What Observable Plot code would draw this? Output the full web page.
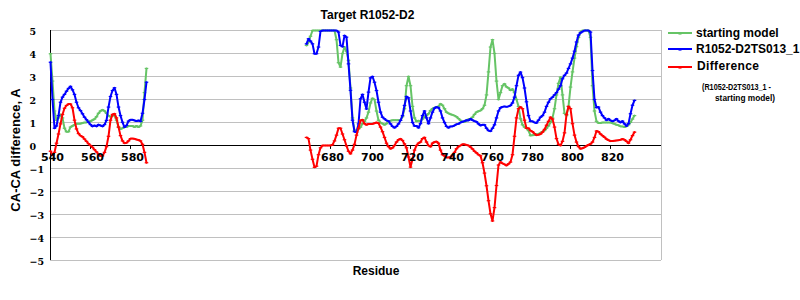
<!DOCTYPE html>
<html><head><meta charset="utf-8">
<script src="https://cdn.jsdelivr.net/npm/d3@7"></script>
<script src="https://cdn.jsdelivr.net/npm/@observablehq/plot@0.6"></script>
<style>body{margin:0;background:#fff;}</style>
</head><body><div id="chart"></div>
<script>
// Residue numbering of the two modelled segments
const seg1Start = 540;
const seg2Start = 668;

// starting model (green)
const startingModel1 = [
  3.99, 2.8, 1.5, 1.1, 1.2, 1.35, 1.2, 0.75, 0.6, 0.6,
  0.8, 0.85, 0.9, 0.95, 0.95, 0.95, 0.98, 1.0, 1.0, 1.05,
  1.05, 1.1, 1.15, 1.25, 1.4, 1.5, 1.55, 1.5, 1.4, 1.3,
  1.25, 1.3, 1.3, 1.1, 0.8, 0.72, 0.75, 0.8, 0.8, 0.85,
  0.85, 0.85, 0.8, 0.85, 0.8, 0.85, 1.1, 2.3, 3.35
];
const startingModel2 = [
  4.35, 4.5, 4.75, 5, 5, 5, 5, 5, 5, 5,
  5, 5, 5, 5, 5, 4.6, 3.6, 3.41, 4.0, 4.28,
  4.1, 3.7, 2.5, 1.2, 0.65, 0.65, 0.72, 0.8, 0.95, 1.05,
  1.2, 1.45, 1.85, 2.05, 2.0, 1.5, 1.1, 1.0, 0.95, 0.9,
  0.95, 1.05, 1.08, 1.1, 1.1, 1.1, 1.1, 1.1, 1.25, 1.6,
  2.6, 3.0, 2.6, 1.7, 1.2, 1.05, 1.08, 1.06, 1.15, 1.25,
  1.3, 1.38, 1.52, 1.6, 1.64, 1.67, 1.7, 1.81, 1.75, 1.6,
  1.45, 1.4, 1.36, 1.33, 1.3, 1.25, 1.17, 1.09, 1.03, 1.03,
  1.08, 1.14, 1.16, 1.23, 1.35, 1.45, 1.49, 1.52, 1.6, 1.75,
  2.2, 3.2, 4.28, 4.6, 4.0, 2.8, 2.0, 2.3, 2.6, 2.68,
  2.55, 2.5, 2.4, 2.45, 2.3, 2.0, 1.7, 1.16, 0.9, 0.8,
  0.75, 0.65, 0.43, 0.45, 0.46, 0.48, 0.5, 0.55, 0.6, 0.65,
  0.75, 0.85, 1.0, 1.2, 1.6, 2.2, 2.7, 2.97, 2.2, 1.4,
  1.3, 1.7, 2.54, 3.2, 3.8, 4.3, 4.7, 4.93, 5, 5,
  5, 5, 4.7, 2.6, 1.5, 1.05, 0.98, 0.98, 1.0, 1.0,
  1.0, 1.0, 1.0, 0.97, 0.94, 0.9, 0.88, 0.83, 0.83, 0.8,
  0.83, 0.9, 1.01, 1.15, 1.3
];

// R1052-D2TS013_1 (blue)
const model1 = [
  3.62, 2.0, 0.75, 0.85, 1.3, 1.88, 2.1, 2.22, 2.36, 2.48,
  2.57, 2.42, 2.22, 1.88, 1.64, 1.52, 1.38, 1.23, 1.12, 1.01,
  0.91, 0.83, 0.87, 0.83, 0.91, 0.87, 0.83, 0.91, 1.09, 1.67,
  2.13, 2.39, 2.51, 2.22, 1.67, 1.3, 1.01, 0.8, 0.87, 1.06,
  1.12, 1.12, 1.09, 1.06, 1.09, 1.05, 1.4, 2.0, 2.75
];
const model2 = [
  4.42, 4.64, 4.54, 4.42, 3.99, 3.99, 4.28, 4.96, 5, 5,
  5, 5, 5, 5, 5, 5, 4.93, 4.35, 4.3, 4.78,
  4.71, 3.55, 2.4, 1.1, 0.6, 0.58, 0.94, 2.03, 2.22, 1.88,
  1.59, 2.32, 2.94, 3.0, 2.75, 2.39, 1.88, 1.45, 1.23, 1.16,
  1.09, 1.06, 0.94, 0.83, 0.77, 0.83, 0.94, 1.09, 1.3, 1.74,
  2.13, 2.07, 1.5, 1.0, 0.85, 0.85, 0.77, 0.95, 1.3, 1.5,
  1.2, 0.95, 1.2, 1.45, 1.62, 1.67, 1.64, 1.5, 1.2, 1.0,
  0.83, 0.77, 0.83, 0.83, 0.87, 0.92, 0.94, 1.0, 1.03, 1.06,
  1.1, 1.09, 1.16, 1.1, 1.06, 1.03, 0.94, 0.87, 0.9, 0.9,
  0.75, 0.65, 0.62, 0.75, 0.9, 1.2, 1.5, 1.64, 1.68, 1.7,
  1.68, 1.7, 1.74, 1.85, 2.1, 2.6, 3.05, 3.19, 2.95, 2.5,
  1.9, 1.3, 1.05, 1.05, 1.0, 0.98, 1.1, 1.23, 1.3, 1.45,
  1.7, 1.88, 2.03, 2.1, 2.2, 2.3, 2.45, 2.6, 2.9, 3.05,
  3.15, 3.35, 3.55, 3.8, 4.1, 4.5, 4.8, 4.9, 4.95, 5,
  5, 5, 4.93, 3.26, 2.0, 1.65, 1.67, 1.45, 1.3, 1.2,
  1.1, 1.16, 1.09, 1.05, 1.09, 1.16, 1.06, 1.0, 1.06, 0.94,
  0.85, 0.95, 1.38, 1.75, 1.96
];

// Difference (red)
const difference1 = [
  -0.25, -0.42, -0.3, 0.1, 0.5, 0.94, 1.35, 1.62, 1.74, 1.8,
  1.8, 1.64, 1.1, 0.72, 0.52, 0.43, 0.38, 0.28, 0.18, 0.08,
  0.0, -0.08, -0.18, -0.28, -0.38, -0.46, -0.45, -0.3, -0.05, 0.4,
  1.1, 1.35, 1.38, 1.2, 0.8, 0.43, 0.2, 0.1, 0.12, 0.2,
  0.3, 0.3, 0.29, 0.26, 0.24, 0.2, 0.05, -0.3, -0.75
];
const difference2 = [
  0.35, 0.3, -0.2, -0.6, -0.95, -0.9, -0.4, -0.1, 0, 0,
  0, 0, 0, 0.03, 0.2, 0.45, 0.75, 0.75, 0.5, 0.25,
  -0.02, -0.25, -0.36, -0.2, 0.05, 0.45, 0.75, 1.09, 1.12, 0.95,
  0.9, 0.94, 0.94, 0.94, 0.97, 1.0, 0.97, 0.8, 0.6, 0.35,
  0.1, -0.05, -0.14, -0.1, 0.0, 0.15, 0.25, 0.29, 0.22, 0.07,
  -0.1, -0.5, -0.94, -0.6, -0.2, 0.0, 0.1, 0.15, 0.3, 0.35,
  0.15, 0.0, -0.05, 0.1, 0.15, 0.17, 0.1, -0.2, -0.4, -0.45,
  -0.52, -0.52, -0.5, -0.43, -0.3, -0.14, -0.05, 0.0, 0.05, 0.05,
  0.02, 0.0, -0.07, -0.15, -0.25, -0.32, -0.4, -0.45, -0.75, -1.2,
  -1.75, -2.4, -2.97, -3.28, -2.7, -1.74, -0.85, -0.72, -0.78, -0.82,
  -0.87, -0.8, -0.72, -0.4, 0.4, 1.2, 1.6, 1.67, 1.6, 1.1,
  0.75, 0.75, 0.65, 0.6, 0.52, 0.45, 0.47, 0.5, 0.58, 0.7,
  0.88, 1.05, 1.23, 1.15, 0.8, 0.3, 0.05, 0.0, 0.18, 0.55,
  1.35, 1.7, 1.6, 0.95, 0.45, 0.15, -0.05, -0.14, -0.12, -0.08,
  -0.02, 0.03, 0.07, 0.15, 0.35, 0.63, 0.6, 0.5, 0.43, 0.36,
  0.28, 0.23, 0.19, 0.2, 0.21, 0.22, 0.23, 0.25, 0.28, 0.25,
  0.18, 0.1, 0.25, 0.43, 0.58
];

const xTicks = [540, 560, 580, 680, 700, 720, 740, 760, 780, 800, 820];
const yTicks = [-5, -4, -3, -2, -1, 0, 1, 2, 3, 4, 5];
const seriesNames = ["starting model", "R1052-D2TS013_1", "Difference"];
const seriesColors = ["#66c466", "#0000ff", "#ff0000"];

function toPoints(a1, a2) {
  const pts = a1.map((v, i) => ({r: seg1Start + i, v}));
  pts.push({r: seg1Start + a1.length, v: null});
  a2.forEach((v, i) => pts.push({r: seg2Start + i, v}));
  return pts;
}
const green = toPoints(startingModel1, startingModel2);
const blue = toPoints(model1, model2);
const red = toPoints(difference1, difference2);

// small dash marker, like the spreadsheet's point markers
const dash = {draw(ctx, size) { const w = Math.sqrt(size) / 2; ctx.moveTo(-w, 0); ctx.lineTo(w, 0); }};

const X_MAX = 845.5;

function series(data, color) {
  return [
    Plot.line(data, {x: "r", y: "v", stroke: color, strokeWidth: 2}),
    Plot.dot(data.filter(d => d.v != null), {x: "r", y: "v", symbol: dash, r: 2, stroke: color, strokeWidth: 1.2})
  ];
}

const svg = Plot.plot({
  width: 800, height: 300,
  marginLeft: 50, marginRight: 139, marginTop: 30, marginBottom: 40,
  x: {domain: [540, X_MAX], axis: null},
  y: {domain: [-5, 5], axis: null},
  style: {background: "#fff", fontFamily: "Liberation Sans, Arial, sans-serif"},
  marks: [
    Plot.ruleY(yTicks, {y: d => d, stroke: "#c0c0c0", strokeWidth: 1}),
    Plot.ruleX([X_MAX], {x: d => d, stroke: "#c0c0c0"}),
    Plot.ruleY([0], {y: d => d, stroke: "#000"}),
    Plot.ruleX([540], {x: d => d, stroke: "#000"}),
    Plot.ruleX(xTicks, {x: d => d, y1: 0, y2: -0.17, stroke: "#000"}),
    ...series(green, seriesColors[0]),
    ...series(blue, seriesColors[1]),
    ...series(red, seriesColors[2]),
    Plot.text(xTicks, {x: d => d, y: 0, dy: 12, dx: 2, text: d => String(d),
      fontFamily: "DejaVu Sans", fontWeight: "bold", fontSize: 11, fill: "#000"}),
    Plot.text(yTicks, {y: d => d, frameAnchor: "left", dx: -21, dy: 1, textAnchor: "start",
      text: d => d < 0 ? "\u2212" + (-d) : String(d),
      fontFamily: "DejaVu Serif", fontWeight: "bold", fontSize: 9.5, fill: "#000"})
  ]
});
document.getElementById("chart").appendChild(svg);

const g = d3.select(svg).append("g")
  .attr("font-family", "Liberation Sans, Arial, sans-serif")
  .attr("font-weight", "bold").attr("fill", "#000").attr("text-anchor", "start");
g.append("text").attr("x", 367.5).attr("y", 15).attr("dy", "0.35em")
  .attr("text-anchor", "middle").attr("font-size", 12).text("Target R1052-D2");
g.append("text").attr("x", 376).attr("y", 271).attr("dy", "0.35em")
  .attr("text-anchor", "middle").attr("font-size", 12).text("Residue");
g.append("text").attr("transform", "translate(15,150) rotate(-90)").attr("dy", "0.35em")
  .attr("text-anchor", "middle").attr("font-size", 13).text("CA-CA difference, A");

const legendY = [33, 49, 67];
seriesNames.forEach((name, i) => {
  g.append("line").attr("x1", 668).attr("x2", 692).attr("y1", legendY[i]).attr("y2", legendY[i])
    .attr("stroke", seriesColors[i]).attr("stroke-width", 2);
  g.append("line").attr("x1", 678.5).attr("x2", 681.5).attr("y1", legendY[i] + 1).attr("y2", legendY[i] + 1)
    .attr("stroke", seriesColors[i]).attr("stroke-width", 1.2);
  g.append("text").attr("x", i === 2 ? 697 : 696).attr("y", legendY[i] - (i === 2 ? 1 : 0))
    .attr("dy", "0.35em").attr("font-size", 12).attr("text-anchor", "start")
    .attr("letter-spacing", i === 2 ? 0.35 : 0).text(name);
});
g.append("text").attr("x", 702).attr("y", 87).attr("dy", "0.35em").attr("font-size", 9.5)
  .attr("text-anchor", "start")
  .attr("textLength", 69).attr("lengthAdjust", "spacingAndGlyphs").text("(R1052-D2TS013_1 -");
g.append("text").attr("x", 715).attr("y", 98).attr("dy", "0.35em").attr("font-size", 9.5)
  .attr("text-anchor", "start")
  .attr("textLength", 60).attr("lengthAdjust", "spacingAndGlyphs").text("starting model)");
</script>
</body></html>
